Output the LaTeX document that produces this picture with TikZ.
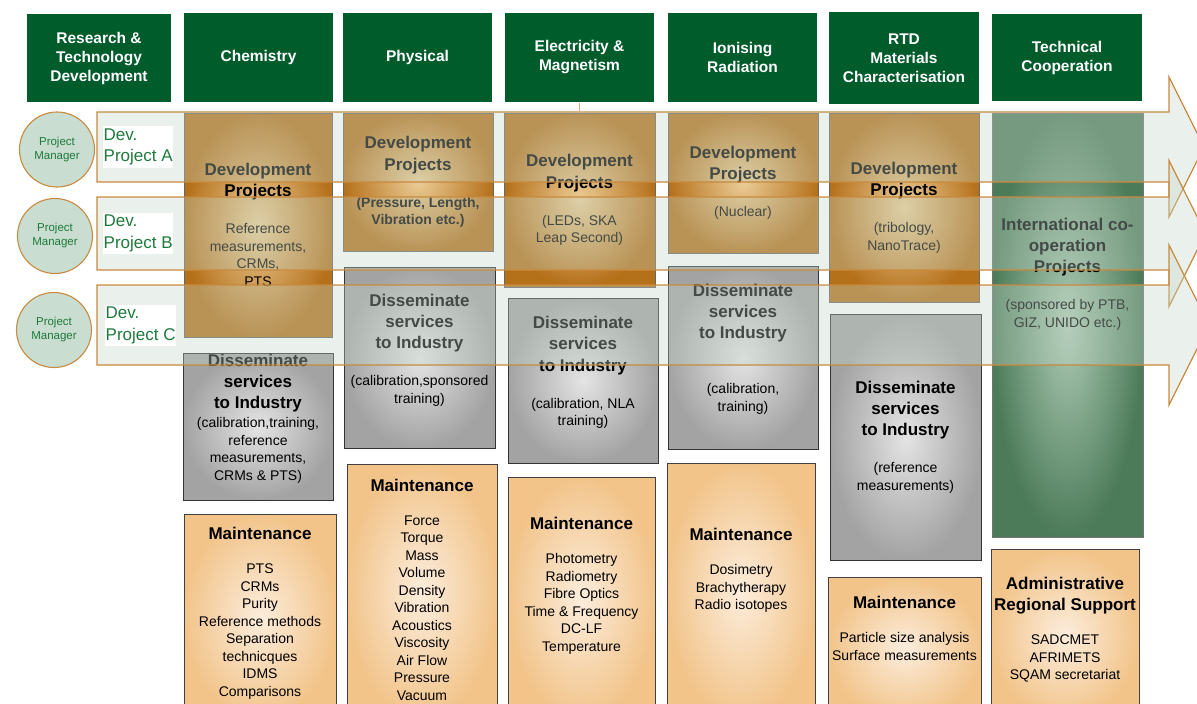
\documentclass[tikz,border=0pt]{standalone}
\usepackage{fontspec}
\setmainfont{Liberation Sans}

\definecolor{hdrgreen}{HTML}{005C2B}
\definecolor{devin}{HTML}{EBCC96}
\definecolor{devout}{HTML}{B5701A}
\definecolor{disin}{HTML}{E4E4E4}
\definecolor{disout}{HTML}{A3A3A3}
\definecolor{mntin}{HTML}{FCEDDC}
\definecolor{mntout}{HTML}{F2C48A}
\definecolor{tcin}{HTML}{AECBB5}
\definecolor{tcout}{HTML}{4C7B59}
\definecolor{veilfill}{HTML}{C3D6C8}
\definecolor{veiledge}{HTML}{C88A3E}
\definecolor{tanline}{HTML}{D3AE80}
\definecolor{pmfill}{HTML}{C9DDD1}
\definecolor{lblgreen}{HTML}{1E7A3C}

\newcommand{\hdrf}{\fontsize{15.5}{19}\selectfont\bfseries}
\newcommand{\ttlf}{\fontsize{17}{21}\selectfont\bfseries}
\newcommand{\lstf}{\fontsize{14}{17.5}\selectfont}

\begin{document}
\begin{tikzpicture}[x=1pt,y=-1pt,
    hdr/.style={draw=black,line width=0.7pt,double=hdrgreen,double distance=2.4pt,fill=hdrgreen,
      text=white,font=\hdrf,align=center,minimum width=146pt,minimum height=86pt,inner sep=0pt},
    box/.style={rectangle,inner sep=0pt,align=center,font=\lstf},
    devbox/.style={box,draw=black!60,line width=0.8pt,inner color=devin,outer color=devout},
    disbox/.style={box,draw=black!80,line width=1pt,inner color=disin,outer color=disout},
    mntbox/.style={box,draw=black!75,line width=1pt,inner color=mntin,outer color=mntout},
    tcbox/.style={box,draw=black!55,line width=0.8pt,inner color=tcin,outer color=tcout},
    txt/.style={align=center,font=\lstf,inner sep=0pt},
    veil/.style={fill=veilfill,fill opacity=0.35,draw=veiledge,line width=1.2pt,line join=miter},
    pm/.style={circle,fill=pmfill,draw=veiledge,line width=1.1pt,minimum size=75pt,inner sep=0pt,
      align=center,text=lblgreen,font=\fontsize{11.5}{14}\selectfont},
    devlbl/.style={fill=white,anchor=west,align=left,text=lblgreen,font=\fontsize{17}{21.5}\selectfont,
      inner xsep=0.5pt,inner ysep=2.4pt}]
  \useasboundingbox (0,0) rectangle (1197,704);
  \clip (0,0) rectangle (1197,704);

  % headers
  \node[hdr,minimum width=141pt,minimum height=85pt] (hrtd) at (99,58) {Research \&\\Technology\\Development};
  \node[hdr] (hchem) at (258.5,57.5) {Chemistry};
  \node[hdr] (hphys) at (417.5,57.5) {Physical};
  \node[hdr] (helec) at (579.5,57.5) {Electricity \&\\Magnetism};
  \node[hdr] (hion) at (742.5,57.5) {Ionising\\Radiation};
  \node[hdr,minimum width=147pt,minimum height=89pt] (hmat) at (904,58) {RTD\\Materials\\Characterisation};
  \node[hdr,minimum width=147pt,minimum height=84pt] (htech) at (1067,57.5) {Technical\\Cooperation};

  % development projects
  \node[devbox,minimum width=148pt,minimum height=224pt] (chemdev) at (258,225)
    {{\ttlf Development}\\[3.8pt]{\ttlf Projects}\\[19.5pt]Reference\\measurements,\\CRMs,\\PTS};
  \node[devbox,minimum width=150pt,minimum height=138pt] (physdev) at (418,182)
    {{\ttlf Development}\\[3.8pt]{\ttlf Projects}\\[19.5pt]{\bfseries (Pressure, Length,}\\{\bfseries Vibration etc.)}};
  \node[devbox,minimum width=151pt,minimum height=174pt] (elecdev) at (579.5,200)
    {{\ttlf Development}\\[3.8pt]{\ttlf Projects}\\[19.5pt](LEDs, SKA\\Leap Second)};
  \node[devbox,minimum width=150pt,minimum height=140pt] (iondev) at (743,183)
    {{\ttlf Development}\\[3.8pt]{\ttlf Projects}\\[19.5pt](Nuclear)};
  \node[devbox,minimum width=150pt,minimum height=189pt] (matdev) at (904,207.5)
    {{\ttlf Development}\\[3.8pt]{\ttlf Projects}\\[19.5pt](tribology,\\NanoTrace)};
  \node[tcbox,minimum width=151pt,minimum height=424pt] (techdev) at (1067.5,325) {};
  \node[txt] (techtxt) at (1067.5,274)
    {{\ttlf International co-}\\[3.8pt]{\ttlf operation}\\[3.8pt]{\ttlf Projects}\\[19.5pt](sponsored by PTB,\\GIZ, UNIDO etc.)};

  % disseminate services
  \node[disbox,minimum width=150pt,minimum height=147pt] (chemdis) at (258,426.5) {};
  \node[txt] (chemdistxt) at (258,418.5)
    {{\ttlf Disseminate}\\[3.8pt]{\ttlf services}\\[3.8pt]{\ttlf to Industry}\\[1.5pt](calibration,training,\\reference\\measurements,\\CRMs \& PTS)};
  \node[disbox,minimum width=151pt,minimum height=181pt] (physdis) at (419.5,357.5) {};
  \node[txt] (physdistxt) at (419.5,350)
    {{\ttlf Disseminate}\\[3.8pt]{\ttlf services}\\[3.8pt]{\ttlf to Industry}\\[19.5pt](calibration,sponsored\\training)};
  \node[disbox,minimum width=150pt,minimum height=165pt] (elecdis) at (583,380.5) {};
  \node[txt] (elecdistxt) at (583,372.5)
    {{\ttlf Disseminate}\\[3.8pt]{\ttlf services}\\[3.8pt]{\ttlf to Industry}\\[19.5pt](calibration, NLA\\training)};
  \node[disbox,minimum width=150pt,minimum height=183pt] (iondis) at (743,357.5) {};
  \node[txt] (iondistxt) at (743,349)
    {{\ttlf Disseminate}\\[3.8pt]{\ttlf services}\\[3.8pt]{\ttlf to Industry}\\[37.5pt](calibration,\\training)};
  \node[disbox,minimum width=151pt,minimum height=246pt] (matdis) at (905.5,437)
    {{\ttlf Disseminate}\\[3.8pt]{\ttlf services}\\[3.8pt]{\ttlf to Industry}\\[19.5pt](reference\\measurements)};

  % maintenance
  \node[mntbox,minimum width=152pt,minimum height=206pt] (chemmnt) at (260,617) {};
  \node[txt] (chemmnttxt) at (260,613.5)
    {{\ttlf Maintenance}\\[16.5pt]PTS\\CRMs\\Purity\\Reference methods\\Separation\\technicques\\IDMS\\Comparisons};
  \node[mntbox,minimum width=150pt,minimum height=256pt] (physmnt) at (422,592) {};
  \node[txt] (physmnttxt) at (422,589.5)
    {{\ttlf Maintenance}\\[16.5pt]Force\\Torque\\Mass\\Volume\\Density\\Vibration\\Acoustics\\Viscosity\\Air Flow\\Pressure\\Vacuum};
  \node[mntbox,minimum width=147pt,minimum height=243pt] (elecmnt) at (581.5,598.5) {};
  \node[txt] (elecmnttxt) at (581.5,586)
    {{\ttlf Maintenance}\\[16.5pt]Photometry\\Radiometry\\Fibre Optics\\Time \& Frequency\\DC-LF\\Temperature};
  \node[mntbox,minimum width=148pt,minimum height=257pt] (ionmnt) at (741,591.5) {};
  \node[txt] (ionmnttxt) at (741,570.5)
    {{\ttlf Maintenance}\\[16.5pt]Dosimetry\\Brachytherapy\\Radio isotopes};
  \node[mntbox,minimum width=153pt,minimum height=143pt] (matmnt) at (904.5,648.5) {};
  \node[txt] (matmnttxt) at (904.5,628.5)
    {{\ttlf Maintenance}\\[16.5pt]Particle size analysis\\Surface measurements};
  \node[mntbox,minimum width=148pt,minimum height=171pt] (admin) at (1065,634.5) {};
  \node[txt] (admintxt) at (1065,630)
    {{\ttlf Administrative}\\[3.8pt]{\ttlf Regional Support}\\[16.5pt]SADCMET\\AFRIMETS\\SQAM secretariat};

  % project arrows
  \path[veil] (97,112) -- (1169,112) -- (1169,77) -- (1204,147) -- (1169,217) -- (1169,182) -- (97,182) -- cycle;
  \path[veil] (97,197) -- (1169,197) -- (1169,160.5) -- (1205.5,233.5) -- (1169,306.5) -- (1169,270) -- (97,270) -- cycle;
  \path[veil] (97,285) -- (1169,285) -- (1169,245) -- (1209,325) -- (1169,405) -- (1169,365) -- (97,365) -- cycle;

  \coordinate (ajoin) at (579.5,112);
  \draw[tanline,line width=1pt] ([yshift=-2pt]helec.south) -- (ajoin);

  % managers
  \node[pm] (pmA) at (57,149.5) {Project\\Manager};
  \node[pm] (pmB) at (55,236) {Project\\Manager};
  \node[pm] (pmC) at (54,330) {Project\\Manager};
  \node[devlbl] (devA) at (103,147) {Dev.\\Project A};
  \node[devlbl] (devB) at (103,233.5) {Dev.\\Project B};
  \node[devlbl] (devC) at (105,325.5) {Dev.\\Project C};
\end{tikzpicture}
\end{document}
